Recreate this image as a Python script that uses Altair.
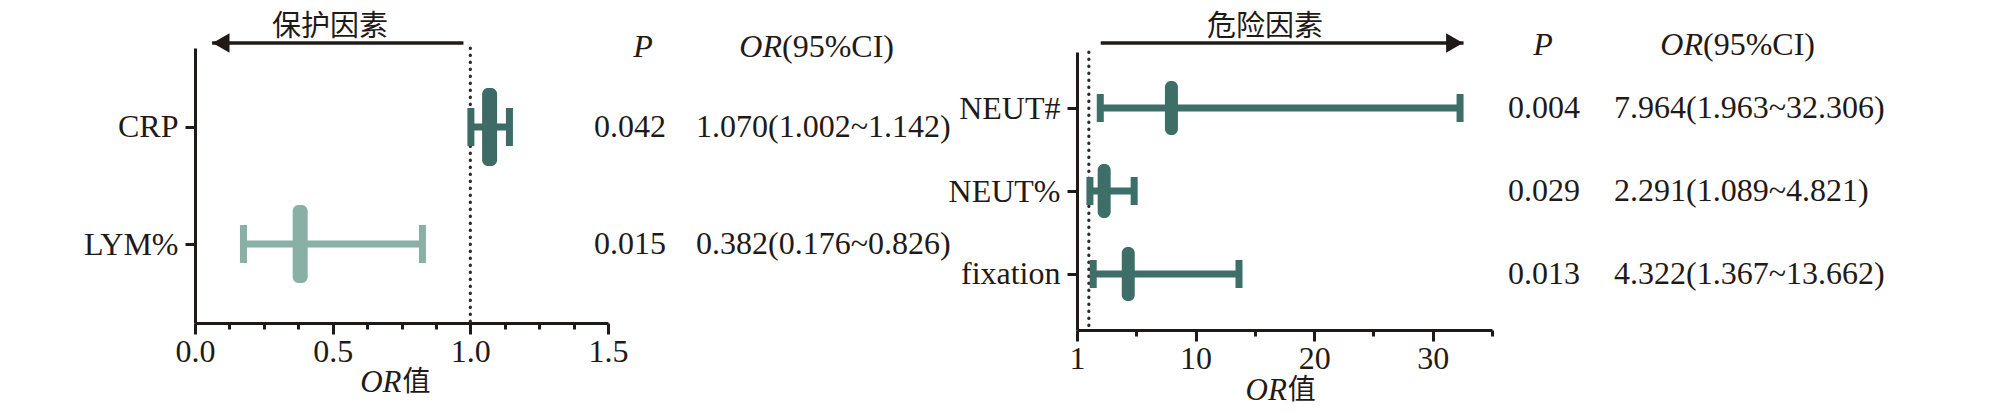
import altair as alt
import pandas as pd

SERIF = "'Liberation Serif', 'Times New Roman', Times, serif"
CJK = "'Noto Sans CJK SC', sans-serif"
INK = "#1f1a17"
FS = 32

# ---------------- data ----------------
left_cats = ["CRP", "LYM%"]
left_or = [1.070, 0.382]
left_lo = [1.002, 0.176]
left_hi = [1.142, 0.826]
left_p = ["0.042", "0.015"]
left_colors = ["#3e6b66", "#88b0a5"]

right_cats = ["NEUT#", "NEUT%", "fixation"]
right_or = [7.964, 2.291, 4.322]
right_lo = [1.963, 1.089, 1.367]
right_hi = [32.306, 4.821, 13.662]
right_p = ["0.004", "0.029", "0.013"]
right_colors = ["#3d6e68", "#3d6e68", "#3d6e68"]

left_ticks = [0, 0.125, 0.25, 0.375, 0.5, 0.625, 0.75, 0.875, 1.0, 1.125, 1.25, 1.375, 1.5]
right_ticks = [0, 5, 10, 15, 20, 25, 30, 35]

left_arrow = [0.975, 0.062]   # start, tip (OR units)
right_arrow = [2.0, 32.6]

left_factor = "保护因素"
right_factor = "危险因素"

# ---------------- layout helpers (pixels) ----------------
OX, OY = 195, 48


def px(x):
    return x - OX


def py(y):
    return y - OY


def panel(cats, est, lo, hi, pvals, colors, *, domain, xrange, yrange, ticks,
          major_test, label_expr, x_offset, y_offset, cap_h, cap_w, est_h, est_w,
          line_w, ref_y, arrow, arrow_shape, arrow_dx, arrow_y, factor, factor_x,
          factor_y, p_x, or_x, head_y, head_p_x, head_or_x, title_mid, title_y):
    df = pd.DataFrame({
        "cat": cats, "est": est, "lo": lo, "hi": hi, "p": pvals,
        "ci": [f"{e:.3f}({l:.3f}~{h:.3f})" for e, l, h in zip(est, lo, hi)],
        "color": colors,
    })
    xs = alt.Scale(domain=domain, range=xrange, nice=False, zero=False)
    yargs = dict(type="point", domain=cats, padding=0.675)
    if yrange is not None:
        yargs["range"] = yrange
    ys = alt.Scale(**yargs)
    xaxis = alt.Axis(
        orient="bottom", values=ticks, labelExpr=label_expr, title=None, grid=False,
        offset=x_offset, labelFlush=False, labelOverlap=False,
        tickSize={"condition": {"test": major_test, "value": 11}, "value": 6},
        tickWidth=3, domainWidth=3, domainColor=INK, tickColor=INK,
        labelFont=SERIF, labelFontSize=FS, labelColor=INK, labelPadding=2,
    )
    yaxis = alt.Axis(
        orient="left", title=None, grid=False, offset=y_offset, tickSize=10,
        tickWidth=3, domainWidth=3, domainColor=INK, tickColor=INK,
        labelFont=SERIF, labelFontSize=FS, labelColor=INK, labelPadding=7,
    )

    def X(f):
        return alt.X(f"{f}:Q", scale=xs, axis=xaxis)

    Y = alt.Y("cat:N", scale=ys, axis=yaxis, sort=cats)
    color = alt.Color("color:N", scale=None)
    base = alt.Chart(df)

    ref_df = pd.DataFrame({"v": [1.0]})
    ref_enc = dict(x=X("v"))
    if ref_y is not None:
        ref_enc.update(y=alt.value(ref_y[0]), y2=alt.value(ref_y[1]))
    ref = alt.Chart(ref_df).mark_rule(strokeDash=[0.5, 6.5], strokeWidth=3.2, strokeCap="round",
                                      color="#2b2b2b").encode(**ref_enc)

    line = base.mark_rule(strokeWidth=line_w).encode(x=X("lo"), x2="hi", y=Y, color=color)
    cap_lo = base.mark_tick(orient="vertical", size=cap_h, thickness=cap_w, opacity=1).encode(
        x=X("lo"), y=Y, color=color)
    cap_hi = base.mark_tick(orient="vertical", size=cap_h, thickness=cap_w, opacity=1).encode(
        x=X("hi"), y=Y, color=color)
    est_m = base.mark_tick(orient="vertical", size=est_h, thickness=est_w, opacity=1,
                           cornerRadius=6).encode(x=X("est"), y=Y, color=color)

    arr_df = pd.DataFrame({"x0": [arrow[0]], "x1": [arrow[1]]})
    arr_line = alt.Chart(arr_df).mark_rule(strokeWidth=3.5, color=INK).encode(
        x=X("x0"), x2="x1", y=alt.value(arrow_y))
    arr_head = alt.Chart(arr_df).mark_point(shape=arrow_shape, filled=True, size=380, opacity=1,
                                            color=INK, xOffset=arrow_dx).encode(
        x=X("x1"), y=alt.value(arrow_y))

    txt = dict(font=SERIF, fontSize=FS, color=INK, baseline="middle")
    p_txt = base.mark_text(align="left", **txt).encode(x=alt.value(p_x), y=Y, text="p:N")
    ci_txt = base.mark_text(align="left", **txt).encode(x=alt.value(or_x), y=Y, text="ci:N")

    one = alt.Chart(pd.DataFrame({"t": ["P"], "o": ["OR"], "c": ["(95%CI)"], "f": [factor],
                                  "z": ["值"], "m": [title_mid]}))
    h_p = one.mark_text(align="center", fontStyle="italic", **txt).encode(
        x=alt.value(head_p_x), y=alt.value(head_y), text="t:N")
    h_or = one.mark_text(align="right", fontStyle="italic", **txt).encode(
        x=alt.value(head_or_x), y=alt.value(head_y), text="o:N")
    h_ci = one.mark_text(align="left", **txt).encode(
        x=alt.value(head_or_x), y=alt.value(head_y), text="c:N")
    fac = one.mark_text(align="center", baseline="middle", font=CJK, fontSize=29, color=INK).encode(
        x=alt.value(factor_x), y=alt.value(factor_y), text="f:N")
    t_or = one.mark_text(align="right", fontStyle="italic", font=SERIF, fontSize=31, color=INK,
                         baseline="middle").encode(
        x=X("m"), y=alt.value(title_y), text="o:N")
    t_z = one.mark_text(align="left", baseline="middle", font=CJK, fontSize=28, color=INK, dx=1).encode(
        x=X("m"), y=alt.value(title_y), text="z:N")

    return alt.layer(ref, line, cap_lo, cap_hi, est_m, arr_line, arr_head,
                     p_txt, ci_txt, h_p, h_or, h_ci, fac, t_or, t_z)


p1 = panel(
    left_cats, left_or, left_lo, left_hi, left_p, left_colors,
    domain=[0, 1.5], xrange=[0, 413], yrange=None, ticks=left_ticks,
    major_test="datum.value % 0.5 === 0",
    label_expr="datum.value % 0.5 === 0 ? format(datum.value, '.1f') : ''",
    x_offset=0, y_offset=0, cap_h=38, cap_w=7, est_h=78, est_w=15, line_w=7,
    ref_y=None, arrow=left_arrow, arrow_shape="triangle-left", arrow_dx=9, arrow_y=py(43),
    factor=left_factor, factor_x=px(330), factor_y=py(27),
    p_x=px(594), or_x=px(696), head_y=py(47), head_p_x=px(643), head_or_x=px(782),
    title_mid=0.75, title_y=py(383),
)

p2 = panel(
    right_cats, right_or, right_lo, right_hi, right_p, right_colors,
    domain=[0, 35], xrange=[px(1077), px(1492)], yrange=[py(52), py(330)], ticks=right_ticks,
    major_test="datum.value % 10 === 0",
    label_expr="datum.value === 0 ? '1' : (datum.value % 10 === 0 ? format(datum.value, 'd') : '')",
    x_offset=7, y_offset=-px(1077), cap_h=28, cap_w=7, est_h=54, est_w=13, line_w=7,
    ref_y=[py(52), py(330)], arrow=right_arrow, arrow_shape="triangle-right", arrow_dx=-9,
    arrow_y=py(43), factor=right_factor, factor_x=px(1265), factor_y=py(27),
    p_x=px(1508), or_x=px(1614), head_y=py(45), head_p_x=px(1543), head_or_x=px(1703),
    title_mid=17.7, title_y=py(391),
)

chart = alt.layer(p1, p2).resolve_scale(x="independent", y="independent").properties(
    width=1790, height=275,
    padding={"left": OX - 8, "top": OY - 8, "right": 10, "bottom": 83},
    autosize=alt.AutoSizeParams(type="none"),
    background="white",
).configure_view(stroke=None)

chart.save("out.html", embed_options={"renderer": "svg", "actions": False})
